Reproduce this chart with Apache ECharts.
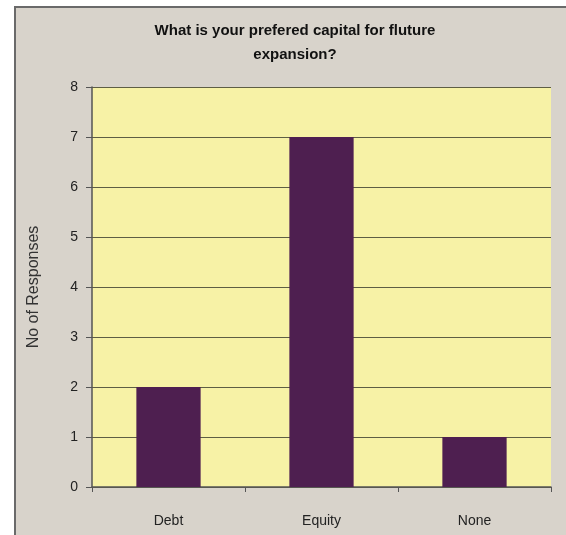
<!DOCTYPE html>
<html><head><meta charset="utf-8">
<script src="https://cdn.jsdelivr.net/npm/echarts@6/dist/echarts.min.js"></script>
<style>html,body{margin:0;padding:0;background:#fff}#c{width:566px;height:535px}</style>
</head><body><div id="c"></div>
<script>
const categories = ['Debt', 'Equity', 'None'];
const responses = [2, 7, 1];
const yTicks = [0, 1, 2, 3, 4, 5, 6, 7, 8];

const chart = echarts.init(document.getElementById('c'));
chart.setOption({
  animation: false,
  backgroundColor: '#ffffff',
  graphic: [
    { type: 'rect', z: -10, shape: { x: 15, y: 7, width: 560, height: 540 },
      style: { fill: '#d8d3cb', stroke: '#6a6a6a', lineWidth: 2 } }
  ],
  title: {
    text: 'What is your prefered capital for fluture\nexpansion?',
    left: 290, top: 14, textAlign: 'center',
    textStyle: { fontFamily: 'Liberation Sans, Arial', fontWeight: 'bold', fontSize: 15, color: '#111', lineHeight: 24 }
  },
  grid: { left: 92, right: 15, top: 87, bottom: 48, show: true, backgroundColor: '#f7f2a6', borderWidth: 0 },
  xAxis: {
    type: 'category', data: categories,
    axisLine: { lineStyle: { color: '#555', width: 1.5 } },
    axisTick: { show: true, length: 5, lineStyle: { color: '#555' } },
    axisLabel: { margin: 27, fontFamily: 'Liberation Sans, Arial', fontSize: 14, color: '#222' }
  },
  yAxis: {
    type: 'value', min: yTicks[0], max: yTicks[yTicks.length - 1], interval: 1,
    name: 'No of Responses', nameLocation: 'middle', nameGap: 50, nameRotate: 90,
    nameTextStyle: { fontFamily: 'Liberation Sans, Arial', fontSize: 16, color: '#333' },
    axisLine: { show: true, lineStyle: { color: '#555', width: 1.5 } },
    axisTick: { show: true, length: 6, lineStyle: { color: '#555' } },
    axisLabel: { margin: 14, fontFamily: 'Liberation Sans, Arial', fontSize: 14, color: '#222' },
    splitLine: { show: true, lineStyle: { color: '#5e5e44', width: 1.2 } }
  },
  series: [{
    type: 'bar', data: responses, barWidth: '42%',
    itemStyle: { color: '#4e1f50' }
  }]
});
</script></body></html>
